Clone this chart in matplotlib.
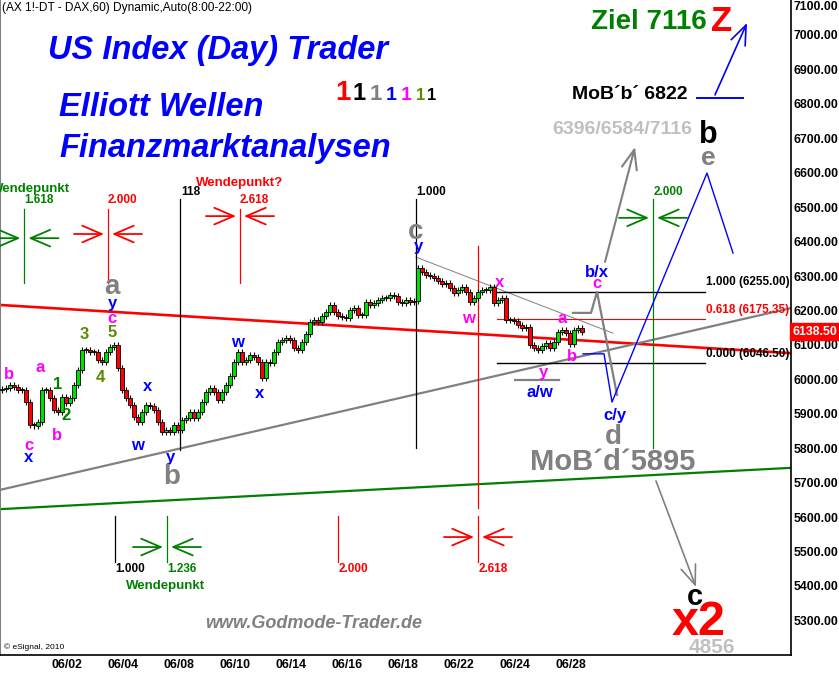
import numpy as np
import matplotlib
matplotlib.use('Agg')
import matplotlib.pyplot as plt
import matplotlib.transforms as mtransforms

plt.rcParams['font.family'] = ['Liberation Sans', 'DejaVu Sans']

# DAX future, 2h bars (7 per trading day)
closes = [5972, 5975, 5984, 5978, 5969, 5969, 5934, 5867, 5865, 5876,
          5969, 5969, 5946, 5911, 5905, 5949, 5931, 5946, 5984, 6027,
          6085, 6085, 6079, 6079, 6056, 6050, 6079, 6094, 6100, 6033,
          5969, 5946, 5925, 5891, 5876, 5905, 5925, 5922, 5911, 5876,
          5847, 5853, 5847, 5867, 5853, 5882, 5888, 5905, 5888, 5905,
          5934, 5963, 5975, 5963, 5940, 5963, 5984, 6010, 6050, 6079,
          6050, 6056, 6071, 6065, 6050, 6004, 6050, 6047, 6079, 6108,
          6114, 6120, 6114, 6091, 6085, 6108, 6132, 6167, 6172, 6167,
          6184, 6196, 6216, 6196, 6184, 6181, 6178, 6201, 6207, 6187,
          6187, 6225, 6216, 6222, 6230, 6236, 6236, 6245, 6242, 6225,
          6222, 6230, 6225, 6227, 6323, 6312, 6303, 6300, 6294, 6286,
          6277, 6280, 6265, 6251, 6260, 6268, 6254, 6225, 6236, 6254,
          6260, 6260, 6268, 6222, 6230, 6236, 6172, 6172, 6169, 6158,
          6149, 6152, 6100, 6091, 6085, 6097, 6106, 6091, 6108, 6137,
          6143, 6135, 6103, 6143, 6149, 6138.5]
first_open = 5970
wick = 9

dates = ['06/02', '06/04', '06/08', '06/10', '06/14', '06/16', '06/18',
         '06/22', '06/24', '06/28']
yticks = list(range(5300, 7101, 100))
last_price = 6138.50

RED = '#FF0000'
GRN = '#008000'
BLUE = '#0000FF'
MAG = '#FF00FF'
GRAY = '#808080'
LGRAY = '#C0C0C0'
OLIVE = '#5A8A00'

# trend lines (bar, price)
red_line = ([-0.5, 197.25], [6216, 6076])
gray_line = ([-0.5, 197.25], [5679, 6207])
green_line = ([-0.5, 197.25], [5623, 5743])
thin_line = ([103.5, 152.75], [6355, 6134])

# fib retracement
fib_names = ['1.000', '0.618', '0.000']
fib_prices = [6255.00, 6175.35, 6046.50]
fib_colors = ['black', RED, 'black']
fib_span = [123.75, 175.75]

# fib time lines: bar, low, high, colour
time_lines = [(5.6, 6280, 6495, GRN), (26.5, 6280, 6495, RED),
              (44.5, 5795, 6524, 'black'), (59.5, 6280, 6495, RED),
              (103.5, 5801, 6524, 'black'), (119, 5626, 6387, RED),
              (119, 5470, 5603, RED), (162.75, 5801, 6524, GRN),
              (28.25, 5470, 5603, 'black'), (41.25, 5470, 5603, GRN),
              (84, 5470, 5603, RED)]
time_labels = [(5.6, 6521, '1.618', GRN), (26.5, 6521, '2.000', RED),
               (59.5, 6521, '2.618', RED), (44.9, 6544, '118', 'black'),
               (103.6, 6544, '1.000', 'black'), (162.8, 6544, '2.000', GRN),
               (28.3, 5449, '1.000', 'black'), (41.4, 5449, '1.236', GRN),
               (84.1, 5449, '2.000', RED), (119.1, 5449, '2.618', RED)]
arrow_pairs = [(5.6, 6410, GRN), (26.5, 6422, RED), (59.5, 6474, RED),
               (162.75, 6469, GRN), (119, 5542, RED), (41.25, 5513, GRN)]

waves = [(1.75, 6013, 'b', MAG, 12), (9.5, 6033, 'a', MAG, 12),
         (14, 5984, '1', GRN, 12), (16, 5894, '2', GRN, 12),
         (13.75, 5838, 'b', MAG, 12), (6.75, 5809, 'c', MAG, 12),
         (6.75, 5772, 'x', BLUE, 12), (20.5, 6129, '3', OLIVE, 12),
         (24.5, 6004, '4', OLIVE, 12), (27.5, 6135, '5', OLIVE, 12),
         (27.5, 6178, 'c', MAG, 12), (27.5, 6219, 'y', BLUE, 12),
         (27.5, 6268, 'a', GRAY, 20), (33.75, 5809, 'w', BLUE, 12),
         (36.5, 5978, 'x', BLUE, 12), (42, 5772, 'y', BLUE, 12),
         (42.5, 5716, 'b', GRAY, 20), (58.75, 6108, 'w', BLUE, 12),
         (64.5, 5960, 'x', BLUE, 12), (103.5, 6428, 'c', GRAY, 20),
         (104, 6387, 'y', BLUE, 12), (116.5, 6178, 'w', MAG, 12),
         (124.5, 6280, 'x', MAG, 12), (140, 6178, 'a', MAG, 12),
         (135.25, 6021, 'y', MAG, 12), (142.5, 6065, 'b', MAG, 12),
         (134.5, 5963, 'a/w', BLUE, 12), (148.75, 6309, 'b/x', BLUE, 12),
         (148.75, 6277, 'c', MAG, 12), (153.25, 5894, 'c/y', BLUE, 12),
         (152.75, 5833, 'd', GRAY, 20), (176.5, 6710, 'b', 'black', 22),
         (176.5, 6643, 'e', GRAY, 19), (173.25, 5368, 'c', 'black', 21),
         (174.25, 5295, 'x2', RED, 35)]

notes = [(152.6, 5760, 'MoB´d´5895', GRAY, 21),
         (155.1, 6725, '6396/6584/7116', LGRAY, 14),
         (156.9, 6826, 'MoB´b´ 6822', 'black', 14),
         (161.75, 7038, 'Ziel 7116', GRN, 20),
         (179.9, 7038, 'Z', RED, 25),
         (177.5, 5222, '4856', LGRAY, 15),
         (59.5, 6570, 'Wendepunkt?', RED, 9.5),
         (41, 5400, 'Wendepunkt', GRN, 9.5)]

ones = [(85.25, 20, RED), (89.25, 17, 'black'), (93.5, 16, GRAY),
        (97.25, 14, BLUE), (101.1, 14, MAG), (104.75, 12, OLIVE),
        (107.5, 12, 'black')]

# forecast paths
gray_path = ([142.75, 147.25, 148.75, 153.75], [6193, 6193, 6254, 5955])
blue_path = ([145.25, 150.5, 152.5, 176.25, 182.75], [6074, 6074, 5934, 6599, 6367])
aw_bar = ([128.25, 139.25], [5998, 5998])
mob_b_line = ([173.75, 185.25], [6817, 6817])
arrows = [((150.75, 6341), (158.25, 6675), GRAY, 1.5),
          ((178.25, 6826), (186.25, 7035), BLUE, 1.2),
          ((163.5, 5705), (173.5, 5397), GRAY, 1.2)]

fig = plt.figure(figsize=(8.39, 6.73), dpi=100)
ax = fig.add_axes([0, 18 / 673, 791 / 839, 655 / 673])
ax.set_xlim(-0.5, 197.25)
ax.set_ylim(5199.5, 7101.6)

# trend lines
ax.plot(*red_line, color=RED, lw=1.9, zorder=1)
ax.plot(*gray_line, color=GRAY, lw=1.6, zorder=1)
ax.plot(*green_line, color=GRN, lw=1.6, zorder=1)
ax.plot(*thin_line, color=GRAY, lw=0.7, zorder=1)

# candles
c = np.array(closes, dtype=float)
o = np.concatenate([[first_open], c[:-1]])
x = np.arange(len(c))
hi = np.maximum(o, c) + wick
lo = np.minimum(o, c) - wick
ax.vlines(x, lo, hi, color='black', lw=0.8, zorder=2)
body = np.where(np.abs(c - o) < 3, 3, c - o)
cols = np.where(c >= o, '#00E000', RED)
ax.bar(x, body, bottom=o, width=0.8, color=cols, edgecolor='black',
       linewidth=0.6, zorder=3)

# fib retracement
for name, p, col in zip(fib_names, fib_prices, fib_colors):
    ax.plot(fib_span, [p, p], color=col, lw=1.0 if col == 'black' else 0.8, zorder=1)
    ax.text(fib_span[1] + 0.3, p + 9, f'{name} ({p:.2f})', color=col,
            fontsize=8.5, fontweight='bold', ha='left', va='bottom', clip_on=True)

# time lines
for b, y0, y1, col in time_lines:
    ax.plot([b, b], [y0, y1], color=col, lw=0.9, zorder=1)
for b, p, t, col in time_labels:
    ax.text(b, p, t, color=col, fontsize=8.5, fontweight='bold', ha='left', va='center')
for b, p, col in arrow_pairs:
    for sgn in (-1, 1):
        ax.annotate('', xy=(b + sgn * 1.0, p), xytext=(b + sgn * 8.5, p),
                    arrowprops=dict(arrowstyle='->,head_length=1.4,head_width=0.6',
                                    color=col, lw=1.3, shrinkA=0, shrinkB=0))
ax.text(17, 6553, 'Wendepunkt', color=GRN, fontsize=9.5, fontweight='bold',
        ha='right', va='center')

# forecast
ax.plot(*gray_path, color=GRAY, lw=1.6, zorder=4)
ax.plot(*blue_path, color=BLUE, lw=1.0, zorder=4)
ax.plot(*aw_bar, color=GRAY, lw=1.6, zorder=4)
ax.plot(*mob_b_line, color=BLUE, lw=1.4, zorder=4)
for start, tip, col, lw in arrows:
    ax.annotate('', xy=tip, xytext=start,
                arrowprops=dict(arrowstyle='->,head_length=1.4,head_width=0.55',
                                color=col, lw=lw, shrinkA=0, shrinkB=0))

for b, p, t, col, fs in waves:
    ax.text(b, p, t, color=col, fontsize=fs, fontweight='bold', ha='center',
            va='center', zorder=6)
for b, p, t, col, fs in notes:
    ax.text(b, p, t, color=col, fontsize=fs, fontweight='bold', ha='center',
            va='center', zorder=6)
for b, fs, col in ones:
    ax.text(b, 6811, '1', color=col, fontsize=fs, fontweight='bold', ha='center',
            va='baseline', zorder=6)

# titles
fig.text(0.002, 1 - 8 / 673, '(AX 1!-DT - DAX,60) Dynamic,Auto(8:00-22:00)',
         fontsize=8.6, va='center', ha='left')
for txt, px, py in [('US Index (Day) Trader', 48, 50), ('Elliott Wellen', 59, 107),
                    ('Finanzmarktanalysen', 59, 148)]:
    fig.text(px / 839, 1 - py / 673, txt, color=BLUE, fontsize=23.5,
             fontweight='bold', fontstyle='italic', va='center', ha='left')
fig.text(205 / 839, 1 - 623 / 673, 'www.Godmode-Trader.de', color=GRAY,
         fontsize=13, fontweight='bold', fontstyle='italic', va='center')
fig.text(4 / 839, 1 - 647 / 673, '© eSignal, 2010', fontsize=6, va='center')

# axes
ax.yaxis.tick_right()
ax.set_yticks(yticks)
ax.set_yticklabels([f'{v:.2f}' for v in yticks], fontsize=8.8, fontweight='bold')
ax.tick_params(axis='y', length=0, pad=2)
ax.get_yticklabels()[-1].set_va('top')
ax.set_xticks([16.25 + 14 * k for k in range(len(dates))])
ax.set_xticklabels(dates, fontsize=8.8, fontweight='bold')
ax.tick_params(axis='x', length=0, pad=3)
ax.spines['top'].set_visible(False)
ax.spines['left'].set_color(GRAY)
ax.spines['right'].set_linewidth(1.2)
ax.spines['bottom'].set_linewidth(1.2)

tr = mtransforms.blended_transform_factory(ax.transAxes, ax.transData)
ax.text(1.002, last_price, f'{last_price:.2f}', transform=tr, color='white',
        fontsize=8.8, fontweight='bold', ha='left', va='center', clip_on=False,
        bbox=dict(boxstyle='square,pad=0.18', fc=RED, ec=RED))

fig.savefig('out.png', dpi=100)
